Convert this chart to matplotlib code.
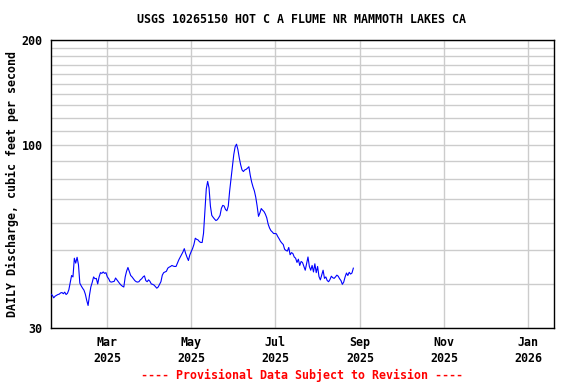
import numpy as np
import pandas as pd
import matplotlib
matplotlib.use("Agg")
import matplotlib.pyplot as plt
import matplotlib.dates as mdates
from matplotlib.ticker import FixedLocator, NullFormatter

# daily mean discharge, cfs, starting 2025-01-19
start_date = "2025-01-19"
flow = [
    37.5, 37.2, 36.6, 37.0, 37.2, 37.4, 37.5, 37.8, 37.9, 37.6,
    38.0, 37.4, 37.7, 38.6, 40.5, 42.4, 42.0, 47.5, 46.0, 47.8,
    45.5, 40.3, 39.6, 39.0, 38.5, 37.5, 36.0, 34.8, 37.2, 39.3,
    40.5, 42.0, 41.5, 41.6, 40.1, 42.0, 43.2, 43.0, 43.4, 43.0,
    43.2, 42.0, 41.5, 40.7, 40.6, 40.7, 40.8, 41.7, 41.2, 40.7,
    40.2, 39.8, 39.5, 39.3, 42.0, 43.6, 44.7, 43.5, 42.4, 42.0,
    41.5, 41.0, 40.7, 40.6, 40.7, 41.2, 41.5, 42.0, 42.3, 41.0,
    40.7, 41.2, 40.8, 40.1, 40.0, 39.8, 39.4, 39.0, 39.3, 40.0,
    40.7, 42.5, 43.2, 43.4, 43.6, 44.5, 44.8, 45.0, 45.3, 45.1,
    45.0, 45.0, 46.0, 47.0, 47.8, 48.6, 49.5, 50.6, 49.0, 47.8,
    46.8, 48.5, 49.6, 50.6, 52.0, 54.2, 53.8, 53.6, 53.0, 52.7,
    52.7, 56.0, 65.0, 75.0, 78.8, 75.5, 67.0, 63.0, 62.2, 61.5,
    60.9, 61.2, 62.0, 63.0, 66.0, 67.3, 67.0, 65.5, 64.9, 67.0,
    74.0, 80.0, 86.0, 94.0, 99.0, 100.7, 97.2, 92.0, 88.0, 85.0,
    84.1, 85.0, 85.3, 86.0, 86.8, 82.0, 78.5, 76.0, 74.0, 71.0,
    67.0, 62.6, 64.0, 65.9, 65.2, 64.6, 63.5, 62.0, 59.5, 58.0,
    57.0, 56.5, 55.9, 55.9, 55.8, 54.8, 54.0, 53.1, 52.5, 52.0,
    50.4, 50.0, 49.8, 51.0, 48.6, 49.3, 49.0, 47.9, 47.5, 46.2,
    47.2, 45.3, 46.5, 46.2, 45.0, 43.9, 45.8, 47.9, 45.0, 43.9,
    45.3, 43.4, 45.8, 43.2, 45.0, 42.1, 41.2, 42.5, 43.9, 41.6,
    42.0, 41.0, 40.7, 41.3, 42.2, 41.8, 41.6, 42.0, 42.5, 42.2,
    41.5, 41.0, 40.0, 40.6, 42.0, 43.1, 42.4, 43.3, 42.8, 43.1,
    44.5,
]
dates = pd.date_range(start_date, periods=len(flow), freq="D")

y_ticks = [30, 100, 200]
y_grid = [40, 50, 60, 70, 80, 90, 110, 120, 130, 140, 150, 160, 170, 180, 190]
x_ticks = ["2025-03-01", "2025-05-01", "2025-07-01", "2025-09-01", "2025-11-01", "2026-01-01"]

font = {"family": "DejaVu Sans Mono", "weight": "bold", "size": 8.4}

fig = plt.figure(figsize=(5.76, 3.84), dpi=100)
ax = fig.add_axes([0.0885, 0.1458, 0.8733, 0.75])

ax.plot(dates, flow, color="#0000ff", lw=0.8, zorder=3)

ax.set_yscale("log")
ax.set_ylim(30, 200)
ax.yaxis.set_major_locator(FixedLocator(y_ticks))
ax.yaxis.set_minor_locator(FixedLocator(y_grid))
ax.yaxis.set_minor_formatter(NullFormatter())
ax.set_yticklabels([str(v) for v in y_ticks], fontdict=font)

ax.set_xlim(pd.Timestamp("2025-01-19"), pd.Timestamp("2026-01-20"))
ax.set_xticks(pd.to_datetime(x_ticks))
ax.xaxis.set_major_formatter(mdates.DateFormatter("%b\n%Y"))
for lab in ax.get_xticklabels():
    lab.set_fontfamily("DejaVu Sans Mono")
    lab.set_fontweight("bold")
    lab.set_fontsize(8.4)
    lab.set_linespacing(1.25)

ax.grid(True, which="both", color="#cccccc", lw=1.0, zorder=0)
ax.tick_params(which="both", length=0, pad=6)
for s in ax.spines.values():
    s.set_linewidth(1.0)
    s.set_color("black")

ax.set_ylabel("DAILY Discharge, cubic feet per second", fontdict=font, labelpad=2)
fig.text(0.524, 0.948, "USGS 10265150 HOT C A FLUME NR MAMMOTH LAKES CA",
         ha="center", va="center", **font)
fig.text(0.524, 0.023, "---- Provisional Data Subject to Revision ----",
         ha="center", va="center", color="red", **font)

fig.savefig("out.png", dpi=100)
